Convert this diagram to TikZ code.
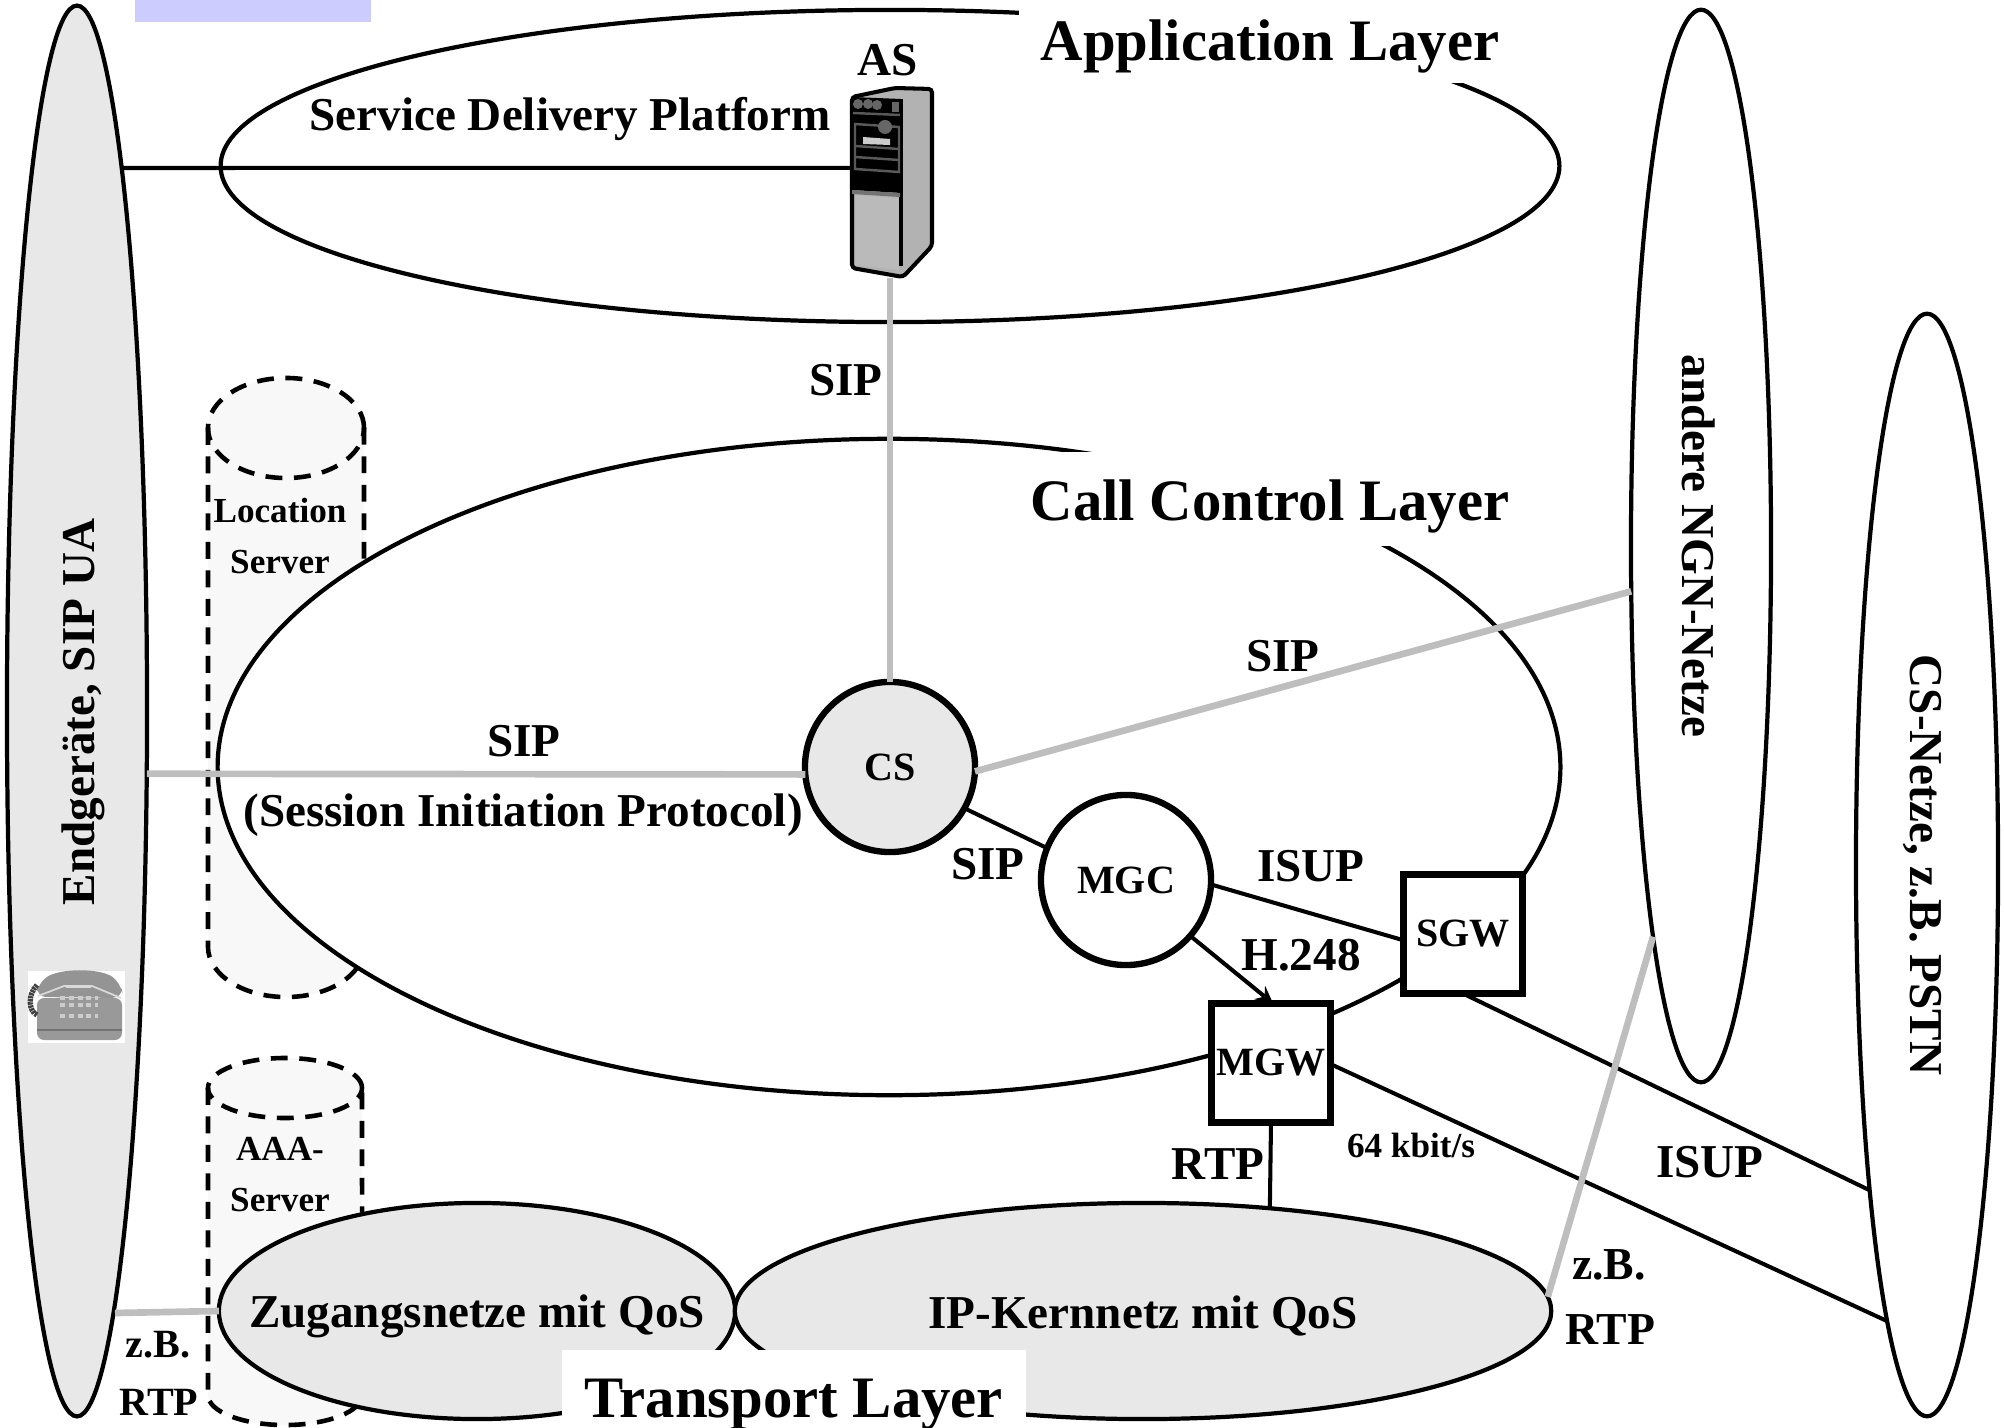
\documentclass[tikz,border=0pt]{standalone}
\usepackage{fontspec}
\setmainfont{Liberation Serif}
\usetikzlibrary{arrows, shapes.geometric}
\definecolor{netzgrau}{HTML}{E8E8E8}
\definecolor{sipgrau}{HTML}{BEBEBE}
\definecolor{cylgrau}{HTML}{F8F8F8}
\definecolor{randblau}{HTML}{CCCCFF}
\tikzset{
  schwarz/.style={line width=1.15pt},
  sipline/.style={line width=1.9pt, color=sipgrau},
  layer/.style={ellipse, draw, line width=1.2pt, fill=white, inner sep=0pt, outer sep=0pt},
  netz/.style={ellipse, draw, line width=1.2pt, fill=netzgrau, inner sep=0pt, outer sep=0pt},
  gross/.style={font=\fontsize{16.7}{20}\selectfont\bfseries, inner sep=0pt},
  mittel/.style={font=\fontsize{13.4}{16}\selectfont\bfseries, inner sep=0pt},
  klein/.style={font=\fontsize{10}{12}\selectfont\bfseries, inner sep=0pt},
  geraet/.style={font=\fontsize{11.4}{14}\selectfont\bfseries, draw, line width=1.8pt, inner sep=0pt, outer sep=0pt},
  weissbox/.style={fill=white, inner sep=0pt, outer sep=0pt},
  cylrand/.style={line width=1.3pt, dash pattern=on 4.8pt off 3.3pt}
}
\begin{document}
\begin{tikzpicture}[x=0.01cm, y=-0.01cm]
    \useasboundingbox (0,0) rectangle (2004,1428);

    % oben links
    \fill[randblau] (135,0) rectangle (371,22);

    % Location Server
    \fill[cylgrau] (208,428) -- (208,947) arc[start angle=180, end angle=360, x radius=0.78cm, y radius=0.5cm] -- (364,428) arc[start angle=0, end angle=180, x radius=0.78cm, y radius=0.5cm] -- cycle;
    \draw[cylrand] (208,428) -- (208,947) arc[start angle=180, end angle=360, x radius=0.78cm, y radius=0.5cm] -- (364,428);
    \draw[cylrand] (286,428) ellipse [x radius=0.78cm, y radius=0.5cm];

    % AAA Server
    \fill[cylgrau] (208,1088) -- (208,1395) arc[start angle=180, end angle=360, x radius=0.77cm, y radius=0.3cm] -- (362,1088) arc[start angle=0, end angle=180, x radius=0.77cm, y radius=0.3cm] -- cycle;
    \draw[cylrand] (208,1088) -- (208,1395) arc[start angle=180, end angle=360, x radius=0.77cm, y radius=0.3cm] -- (362,1088);
    \draw[cylrand] (285,1088) ellipse [x radius=0.77cm, y radius=0.3cm];

    % Schichten
    \node[layer, minimum width=13.38cm, minimum height=3.12cm] (applayer) at (890,166) {};
    \node[layer, minimum width=13.42cm, minimum height=6.56cm] (calllayer) at (889,767) {};
    \node[netz, minimum width=5.16cm, minimum height=2.16cm] (zugang) at (477,1311) {};
    \node[netz, minimum width=8.16cm, minimum height=2.16cm] (kern) at (1143,1311) {};
    \node[netz, minimum width=1.40cm, minimum height=14.10cm] (ua) at (77,711) {};
    \node[layer, minimum width=1.40cm, minimum height=10.72cm] (ngn) at (1701,546) {};
    \node[layer, minimum width=1.42cm, minimum height=11.02cm] (pstn) at (1927,865) {};
    \coordinate (uaoben) at (121,168);
    \coordinate (uaunten) at (115,1313);

    % weisse Kaesten der Ueberschriften
    \node[weissbox, minimum width=5.06cm, minimum height=0.83cm] (appbox) at (1272,41) {};
    \node[weissbox, minimum width=5.00cm, minimum height=0.94cm] (callbox) at (1272,499) {};
    \node[weissbox, minimum width=4.64cm, minimum height=0.78cm] (transbox) at (794,1389) {};

    % Knoten
    \node[netz, circle, line width=1.8pt, minimum size=1.70cm, font=\fontsize{11.4}{14}\selectfont\bfseries] (cs) at (890,767) {CS};
    \node[geraet, circle, fill=white, minimum size=1.70cm] (mgc) at (1126,880) {MGC};
    \node[geraet, fill=white, minimum size=1.19cm] (sgw) at (1463,934) {SGW};
    \node[geraet, fill=white, minimum size=1.19cm] (mgw) at (1271,1063) {MGW};
    \node[inner sep=0pt, minimum width=0.76cm, minimum height=1.90cm] (as) at (890,182) {};

    % Verbindungen
    \draw[schwarz] (uaoben) -- (as.160);
    \draw[schwarz] (cs.-29.7) -- (mgc.158);
    \draw[schwarz] (mgc.-3) -- (sgw.186);
    \draw[schwarz, -stealth] (mgc.-41) -- (mgw.88);
    \draw[schwarz] (mgw.south) -- (kern.39.5);
    \draw[schwarz] (sgw.south) -- (pstn.260.2);
    \draw[schwarz] (mgw.-1) -- (pstn.265.4);
    \draw[sipline] (as.south) -- (cs.north);
    \draw[sipline] (ua.-42) -- (cs.185);
    \draw[sipline] (cs.-3) -- (ngn.213);
    \draw[sipline] (uaunten) -- (zugang.180.5);
    \draw[sipline] (kern.2.8) -- (ngn.263.6);

    % AS
    \draw[schwarz, fill=black!30, rounded corners=1pt] (852,97) -- (895,88) -- (932,89) -- (932,246) -- (903,277) -- (852,268) -- cycle;
    \fill[black!27] (855,195) -- (899,198) -- (899,270) -- (855,265) -- cycle;
    \fill[black] (852,97) -- (901,99) -- (901,193) -- (852,190) -- cycle;
    \fill[black] (899,99) rectangle (903,266);
    \fill[black!55] (852,190) -- (900,193) -- (900,197) -- (852,194) -- cycle;
    \fill[black!60] (858,104) circle (0.05cm);
    \fill[black!60] (868,104) circle (0.05cm);
    \fill[black!60] (877,105) circle (0.05cm);
    \fill[black!60] (892,102) rectangle (899,112);
    \draw[black!65, line width=0.7pt] (853,113) -- (900,115);
    \draw[black!65, line width=0.7pt] (855,124) -- (899,127) -- (899,172) -- (855,169) -- cycle;
    \draw[black!65, line width=0.7pt] (855,146) -- (899,149);
    \draw[black!65, line width=0.7pt] (855,157) -- (899,160);
    \fill[black!60] (885,127) circle (0.07cm);
    \fill[black!20] (863,137) -- (890,139) -- (890,145) -- (863,144) -- cycle;

    % Telefon
    \fill[white] (28,971) rectangle (125,1043);
    \fill[black!40, rounded corners=2pt] (37,998) -- (122,998) -- (122,1040) -- (37,1040) -- cycle;
    \fill[black!42, rounded corners=3pt] (36,997) -- (38,983) .. controls (60,968) and (100,968) .. (121,983) -- (123,998) -- cycle;
    \draw[black!15, line width=0.5pt] (38,996) -- (64,986) -- (92,986) -- (121,998);
    \draw[black!15, line width=0.7pt] (66,987) -- (91,987);
    \draw[black!75, line width=1.5pt, dash pattern=on 0.7pt off 0.2pt] (37,985) .. controls (27,995) and (29,1012) .. (37,1015);
    \draw[black!55, line width=0.5pt] (37,1030) -- (122,1030);
    \draw[black!20, line width=1.2pt, dash pattern=on 1.4pt off 1.1pt] (60,998) -- (98,998);
    \draw[black!20, line width=1.2pt, dash pattern=on 1.4pt off 1.1pt] (60,1005) -- (98,1005);
    \draw[black!20, line width=1.2pt, dash pattern=on 1.4pt off 1.1pt] (60,1016) -- (98,1016);

    % Beschriftungen
    \node[gross] (applabel) at (1270,46) {Application Layer};
    \node[gross] (calllabel) at (1270,506) {Call Control Layer};
    \node[gross] (translabel) at (794,1405) {Transport Layer};
    \node[mittel] (sdplabel) at (570,119) {Service Delivery Platform};
    \node[mittel] (aslabel) at (888,60) {AS};
    \node[mittel] (sipa) at (846,380) {SIP};
    \node[mittel] (sipb) at (1283,656) {SIP};
    \node[mittel] (sipc) at (524,741) {SIP};
    \node[mittel] (siplang) at (523,815) {(Session Initiation Protocol)};
    \node[mittel] (sipd) at (988,864) {SIP};
    \node[mittel] (isupa) at (1311,866) {ISUP};
    \node[mittel] (hlabel) at (1301,955) {H.248};
    \node[mittel] (rtpa) at (1218,1164) {RTP};
    \node[klein] (kbit) at (1411,1145) {64 kbit/s};
    \node[mittel] (isupb) at (1710,1162) {ISUP};
    \node[font=\fontsize{13}{16}\selectfont\bfseries, inner sep=0pt] (zbrechts) at (1609,1265) {z.B.};
    \node[font=\fontsize{13}{16}\selectfont\bfseries, inner sep=0pt] (rtprechts) at (1610,1330) {RTP};
    \node[font=\fontsize{11.4}{14}\selectfont\bfseries, inner sep=0pt] (zblinks) at (158,1345) {z.B.};
    \node[font=\fontsize{11.4}{14}\selectfont\bfseries, inner sep=0pt] (rtplinks) at (159,1402) {RTP};
    \node[klein] (location) at (280,510) {Location};
    \node[klein] (servera) at (280,562) {Server};
    \node[klein] (aaa) at (280,1149) {AAA-};
    \node[klein] (serverb) at (280,1200) {Server};
    \node[mittel] (zuglabel) at (477,1316) {Zugangsnetze mit QoS};
    \node[mittel] (kernlabel) at (1143,1316) {IP-Kernnetz mit QoS};
    \node[mittel, rotate=90] (ualabel) at (83,712) {Endgeräte, SIP UA};
    \node[mittel, rotate=-90] (ngnlabel) at (1699,546) {andere NGN-Netze};
    \node[mittel, rotate=-90] (pstnlabel) at (1922,865) {CS-Netze, z.B. PSTN};
\end{tikzpicture}
\end{document}
